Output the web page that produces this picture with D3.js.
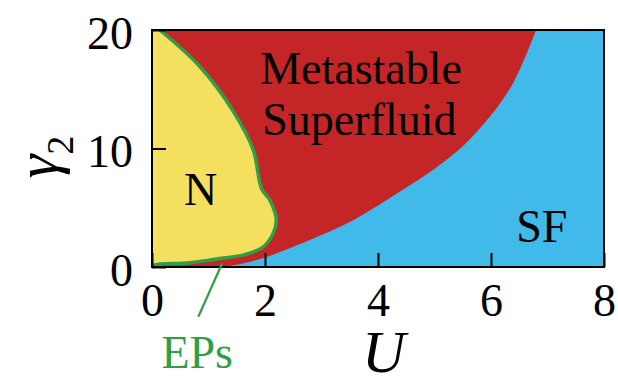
<!DOCTYPE html>
<html>
<head>
<meta charset="utf-8">
<script src="https://cdn.jsdelivr.net/npm/d3@7"></script>
</head>
<body style="margin:0">
<script>
var serif = "'Liberation Serif'";

// red / blue boundary (metastable superfluid vs SF)
var sfU     = [0, 1.0, 1.5, 2.0, 2.5, 3.0, 3.5, 4.0, 4.5, 5.0, 5.5, 6.0, 6.4, 6.8];
var sfGamma = [0, 0,   0.2, 0.8, 1.7, 2.7, 3.8, 5.2, 6.7, 8.3, 10.2, 12.8, 15.6, 20];

// green boundary of the normal (N) phase, traced top to bottom
var nU     = [0.14, 0.85, 1.43, 1.79, 1.94, 2.09, 2.20, 2.15, 1.97, 1.61, 1.26, 0.67, 0.05, 0];
var nGamma = [20,   16.9, 13.2, 9.9,  6.6,  5.6,  4.0,  2.9,  1.7,  1.0,  0.76, 0.36, 0.17, 0];

var xTicks = [0, 2, 4, 6, 8];
var yTicks = [0, 10, 20];

var margin = {top: 30, right: 14, bottom: 117, left: 152},
    width = 618 - margin.left - margin.right,
    height = 384 - margin.top - margin.bottom;

var svg = d3.select("body").append("svg")
    .attr("width", 618)
    .attr("height", 384)
    .style("font-family", serif, "important")
  .append("g")
    .attr("transform", "translate(" + margin.left + "," + margin.top + ")");

var x = d3.scaleLinear().domain([0, 8]).range([0, width]);
var y = d3.scaleLinear().domain([0, 20]).range([height, 0]);

// background = SF
svg.append("rect")
    .attr("width", width)
    .attr("height", height)
    .attr("fill", "#41b9e9");

// metastable superfluid region
var sfPts = sfU.map((u, i) => [u, sfGamma[i]]);
var redArea = d3.area()
    .x(d => x(d[0]))
    .y0(y(20))
    .y1(d => y(d[1]))
    .curve(d3.curveCatmullRom.alpha(0.5));
svg.append("path")
    .attr("d", redArea(sfPts))
    .attr("fill", "#c42628");

// normal region
var nPts = nU.map((u, i) => [u, nGamma[i]]);
var nLine = d3.line()
    .x(d => x(d[0]))
    .y(d => y(d[1]))
    .curve(d3.curveCatmullRom.alpha(0.5));
svg.append("path")
    .attr("d", nLine(nPts) + "L" + x(0) + "," + y(20) + "Z")
    .attr("fill", "#f5df5e");
svg.append("path")
    .attr("d", nLine(nPts))
    .attr("fill", "none")
    .attr("stroke", "#2e9f47")
    .attr("stroke-width", 3.5);

// frame
svg.append("rect")
    .attr("width", width)
    .attr("height", height)
    .attr("fill", "none")
    .attr("stroke", "#000")
    .attr("stroke-width", 2);

// axes, ticks pointing inward
var xAxis = svg.append("g")
    .attr("transform", "translate(0," + height + ")")
    .call(d3.axisBottom(x).tickValues(xTicks).tickSizeInner(-14).tickSizeOuter(0).tickPadding(16));
var yAxis = svg.append("g")
    .call(d3.axisLeft(y).tickValues(yTicks).tickSizeInner(-14).tickSizeOuter(0).tickPadding(19));
[xAxis, yAxis].forEach(a => {
  a.attr("font-family", null).attr("font-size", null);
  a.select(".domain").remove();
  a.selectAll("line").attr("stroke", "#000").attr("stroke-width", 2);
  a.selectAll("text")
    .attr("fill", "#000")
    .style("font-family", serif, "important")
    .style("font-size", "46px");
});
yAxis.selectAll("text").attr("dy", "0.4em");

function label(u, py, txt, size) {
  return svg.append("text")
      .attr("x", x(u)).attr("y", py)
      .attr("text-anchor", "middle")
      .style("font-family", serif, "important")
      .style("font-size", size + "px")
      .text(txt);
}

// region labels
label(3.7, 54, "Metastable", 46);
label(3.67, 105, "Superfluid", 46);
label(0.86, 175, "N", 46);
label(6.9, 212, "SF", 46);

// EPs annotation
svg.append("line")
    .attr("x1", x(1.24)).attr("y1", y(0.3))
    .attr("x2", x(0.82)).attr("y2", y(-4.2))
    .attr("stroke", "#2e9f47")
    .attr("stroke-width", 2.2);
label(0.8, 338, "EPs", 46).attr("fill", "#2e9f47");

// axis titles
label(4.1, 342, "U", 60).style("font-style", "italic");

var yl = svg.append("text")
    .attr("transform", "translate(" + (57 - margin.left) + "," + (157 - margin.top) + ") rotate(-90)")
    .attr("text-anchor", "middle")
    .style("font-family", serif, "important")
    .style("font-size", "60px");
yl.append("tspan").style("font-style", "italic").text("γ");
yl.append("tspan").attr("dy", 16).style("font-size", "38px").text("2");
</script>
</body>
</html>
